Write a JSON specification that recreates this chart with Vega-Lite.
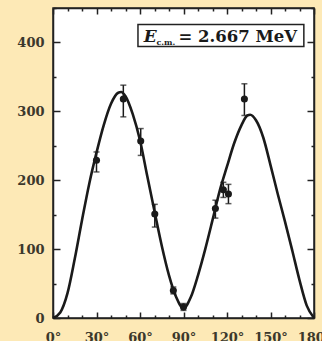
{
  "$schema": "https://vega.github.io/schema/vega-lite/v6.json",
  "autosize": {"type": "none"},
  "width": 261,
  "height": 310,
  "padding": {"left": 53, "top": 8, "right": 8, "bottom": 23},
  "background": "#fde9b6",
  "config": {
    "view": {"fill": "#ffffff", "stroke": "#222222", "strokeWidth": 1.5},
    "axis": {
      "domainColor": "#222222", "domainWidth": 1.5, "tickColor": "#222222", "tickWidth": 1.5,
      "grid": false, "title": null,
      "labelFont": "DejaVu Serif", "labelFontWeight": "bold", "labelFontSize": 13, "labelColor": "#3b382c"
    }
  },
  "datasets": {
    "curve": [
      {"theta": 0, "sigma": 0}, {"theta": 5, "sigma": 8}, {"theta": 10, "sigma": 36},
      {"theta": 15, "sigma": 86}, {"theta": 20, "sigma": 142}, {"theta": 25, "sigma": 195},
      {"theta": 30, "sigma": 240}, {"theta": 35, "sigma": 280}, {"theta": 40, "sigma": 311},
      {"theta": 45, "sigma": 327}, {"theta": 47, "sigma": 328}, {"theta": 50, "sigma": 322},
      {"theta": 55, "sigma": 296}, {"theta": 60, "sigma": 258}, {"theta": 65, "sigma": 206},
      {"theta": 70, "sigma": 155}, {"theta": 75, "sigma": 105}, {"theta": 80, "sigma": 62},
      {"theta": 85, "sigma": 30}, {"theta": 90, "sigma": 14}, {"theta": 95, "sigma": 30},
      {"theta": 100, "sigma": 62}, {"theta": 105, "sigma": 100}, {"theta": 110, "sigma": 142},
      {"theta": 115, "sigma": 185}, {"theta": 120, "sigma": 220}, {"theta": 125, "sigma": 254},
      {"theta": 130, "sigma": 280}, {"theta": 134, "sigma": 294}, {"theta": 136, "sigma": 295},
      {"theta": 140, "sigma": 287}, {"theta": 145, "sigma": 262}, {"theta": 150, "sigma": 222},
      {"theta": 155, "sigma": 180}, {"theta": 160, "sigma": 140}, {"theta": 165, "sigma": 98},
      {"theta": 170, "sigma": 55}, {"theta": 175, "sigma": 18}, {"theta": 180, "sigma": 0}
    ],
    "points": [
      {"theta": 30, "sigma": 229, "lo": 212, "hi": 241},
      {"theta": 48.5, "sigma": 318, "lo": 292, "hi": 338},
      {"theta": 60.5, "sigma": 257, "lo": 236, "hi": 275},
      {"theta": 70.2, "sigma": 151, "lo": 132, "hi": 165},
      {"theta": 83, "sigma": 40, "lo": 35, "hi": 45},
      {"theta": 90, "sigma": 16, "lo": 11, "hi": 21},
      {"theta": 112, "sigma": 159, "lo": 145, "hi": 171},
      {"theta": 117.5, "sigma": 186, "lo": 175, "hi": 197},
      {"theta": 121, "sigma": 180, "lo": 166, "hi": 194},
      {"theta": 132, "sigma": 318, "lo": 294, "hi": 340}
    ],
    "note": [{"symbol": "E", "sub": "c.m.", "value": "= 2.667 MeV"}]
  },
  "resolve": {"axis": {"x": "independent", "y": "independent"}},
  "layer": [
    {
      "data": {"name": "curve"},
      "mark": {"type": "line", "color": "#1a1a1a", "strokeWidth": 2.6, "interpolate": "monotone"},
      "encoding": {
        "x": {"field": "theta", "type": "quantitative", "scale": {"domain": [0, 180], "nice": false},
          "axis": {"orient": "bottom", "values": [0,10,20,30,40,50,60,70,80,90,100,110,120,130,140,150,160,170,180],
            "tickSize": {"condition": {"test": "datum.value % 30 === 0", "value": -6}, "value": -3},
            "labelExpr": "datum.value % 30 === 0 ? datum.value + '°' : ''", "labelPadding": 19, "labelFlush": false, "labelOverlap": false}},
        "y": {"field": "sigma", "type": "quantitative", "scale": {"domain": [0, 450], "nice": false},
          "axis": {"orient": "left", "values": [0,50,100,150,200,250,300,350,400,450],
            "tickSize": {"condition": {"test": "datum.value % 100 === 0", "value": -7}, "value": -3},
            "labelExpr": "datum.value % 100 === 0 && datum.value < 450 ? datum.label : ''", "labelPadding": 16, "labelFlush": false, "labelOverlap": false}}
      }
    },
    {
      "data": {"name": "points"},
      "mark": {"type": "rule", "color": "#1a1a1a", "strokeWidth": 1.5},
      "encoding": {
        "x": {"field": "theta", "type": "quantitative",
          "axis": {"orient": "top", "values": [0,10,20,30,40,50,60,70,80,90,100,110,120,130,140,150,160,170,180],
            "tickSize": {"condition": {"test": "datum.value % 30 === 0", "value": -6}, "value": -3}, "labels": false}},
        "y": {"field": "lo", "type": "quantitative",
          "axis": {"orient": "right", "values": [0,50,100,150,200,250,300,350,400,450],
            "tickSize": {"condition": {"test": "datum.value % 100 === 0", "value": -7}, "value": -3}, "labels": false}},
        "y2": {"field": "hi"}
      }
    },
    {
      "data": {"name": "points"},
      "mark": {"type": "tick", "color": "#1a1a1a", "size": 6, "thickness": 1.5, "orient": "horizontal"},
      "encoding": {"x": {"field": "theta", "type": "quantitative", "axis": null}, "y": {"field": "lo", "type": "quantitative", "axis": null}}
    },
    {
      "data": {"name": "points"},
      "mark": {"type": "tick", "color": "#1a1a1a", "size": 6, "thickness": 1.5, "orient": "horizontal"},
      "encoding": {"x": {"field": "theta", "type": "quantitative", "axis": null}, "y": {"field": "hi", "type": "quantitative", "axis": null}}
    },
    {
      "data": {"name": "points"},
      "mark": {"type": "point", "filled": true, "color": "#1a1a1a", "size": 50, "opacity": 1},
      "encoding": {"x": {"field": "theta", "type": "quantitative", "axis": null}, "y": {"field": "sigma", "type": "quantitative", "axis": null}}
    },
    {
      "data": {"name": "note"},
      "mark": {"type": "rect", "fill": "#ffffff", "stroke": "#222222", "strokeWidth": 1.5},
      "encoding": {"x": {"datum": 58.6, "axis": null}, "x2": {"datum": 173}, "y": {"datum": 426, "axis": null}, "y2": {"datum": 394}}
    },
    {
      "data": {"name": "note"},
      "mark": {"type": "text", "font": "DejaVu Serif", "fontStyle": "italic", "fontWeight": "bold", "fontSize": 17, "align": "left", "baseline": "alphabetic", "color": "#1a1a1a"},
      "encoding": {"text": {"field": "symbol"}, "x": {"datum": 62.5, "axis": null}, "y": {"datum": 401, "axis": null}}
    },
    {
      "data": {"name": "note"},
      "mark": {"type": "text", "font": "DejaVu Serif", "fontWeight": "bold", "fontSize": 8, "align": "left", "baseline": "alphabetic", "color": "#1a1a1a"},
      "encoding": {"text": {"field": "sub"}, "x": {"datum": 71.3, "axis": null}, "y": {"datum": 397, "axis": null}}
    },
    {
      "data": {"name": "note"},
      "mark": {"type": "text", "font": "DejaVu Serif", "fontWeight": "bold", "fontSize": 16.5, "align": "left", "baseline": "alphabetic", "color": "#1a1a1a"},
      "encoding": {"text": {"field": "value"}, "x": {"datum": 86.5, "axis": null}, "y": {"datum": 401, "axis": null}}
    }
  ]
}
